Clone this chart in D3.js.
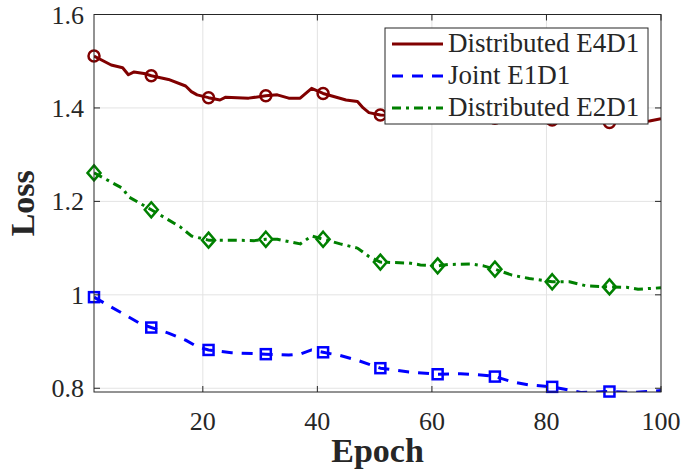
<!DOCTYPE html>
<html lang="en">
<head>
    <title>Loss vs Epoch</title>
    <script src="https://d3js.org/d3.v7.min.js"></script>
    <style>
        body { margin: 0; background: #fff; }
        text { font-family: "Liberation Serif", "Times New Roman", serif; fill: #262626; }
    </style>
</head>
<body>
  <svg width=682 height=470></svg>
    <script>
        // data
        const e4d1Epochs = [1, 4, 6, 7, 8, 10, 11, 14, 17, 18, 19, 21, 23, 24, 28, 31, 33, 35, 37, 39, 41, 45, 47, 48, 49, 51, 55, 61, 65, 71, 75, 81, 85, 91, 95, 98, 100];
        const e4d1Loss = [1.511, 1.492, 1.486, 1.471, 1.477, 1.473, 1.469, 1.461, 1.447, 1.435, 1.428, 1.422, 1.417, 1.423, 1.421, 1.426, 1.428, 1.421, 1.421, 1.442, 1.431, 1.417, 1.414, 1.400, 1.390, 1.385, 1.383, 1.381, 1.380, 1.378, 1.377, 1.374, 1.372, 1.369, 1.369, 1.372, 1.377];

        const e1d1Epochs = [1, 6, 9, 11, 14, 17, 19, 21, 25, 31, 35, 37, 39, 41, 44, 47, 51, 56, 61, 65, 69, 71, 74, 77, 81, 84, 86, 91, 95, 100];
        const e1d1Loss = [0.995, 0.960, 0.939, 0.930, 0.918, 0.903, 0.889, 0.882, 0.876, 0.873, 0.871, 0.873, 0.882, 0.877, 0.870, 0.860, 0.843, 0.835, 0.830, 0.831, 0.828, 0.825, 0.814, 0.807, 0.803, 0.796, 0.791, 0.793, 0.791, 0.795];

        const e2d1Epochs = [1, 6, 7, 11, 16, 18, 21, 25, 29, 31, 33, 37, 39, 41, 44, 47, 49, 51, 56, 58, 61, 63, 67, 69, 71, 74, 77, 81, 84, 87, 91, 94, 96, 100];
        const e2d1Loss = [1.261, 1.228, 1.210, 1.182, 1.146, 1.126, 1.117, 1.117, 1.116, 1.119, 1.119, 1.109, 1.126, 1.119, 1.109, 1.100, 1.082, 1.070, 1.068, 1.064, 1.062, 1.065, 1.066, 1.062, 1.055, 1.042, 1.035, 1.028, 1.028, 1.019, 1.017, 1.016, 1.012, 1.015];

        const markerEpochs = [1, 11, 21, 31, 41, 51, 61, 71, 81, 91];
        const xTicks = [20, 40, 60, 80, 100];
        const yTicks = [0.8, 1, 1.2, 1.4, 1.6];

        const series = [
            {name: "Distributed E4D1", epochs: e4d1Epochs, loss: e4d1Loss, color: "#800000", dash: null, marker: "circle"},
            {name: "Joint E1D1", epochs: e1d1Epochs, loss: e1d1Loss, color: "#0000ff", dash: "11,9", marker: "square"},
            {name: "Distributed E2D1", epochs: e2d1Epochs, loss: e2d1Loss, color: "#008000", dash: "9,5,3,5", marker: "diamond"}
        ];

        const svg = d3.select("svg");
        const pLeft = 94, pRight = 661, pTop = 14.5, pBottom = 392;

        const x = d3.scaleLinear().domain([1, 100]).range([pLeft, pRight]);
        const y = d3.scaleLinear().domain([0.792, 1.6]).range([pBottom, pTop]);

        // grid
        svg.append("g").selectAll("line").data(xTicks.slice(0, -1)).enter().append("line")
           .attr("x1", d => x(d)).attr("x2", d => x(d))
           .attr("y1", pTop).attr("y2", pBottom)
           .attr("stroke", "#e3e3e3").attr("stroke-width", 1);
        svg.append("g").selectAll("line").data(yTicks).enter().append("line")
           .attr("x1", pLeft).attr("x2", pRight)
           .attr("y1", d => y(d)).attr("y2", d => y(d))
           .attr("stroke", "#e3e3e3").attr("stroke-width", 1);

        // clip for lines
        svg.append("clipPath").attr("id", "plot")
           .append("rect").attr("x", pLeft).attr("y", pTop)
           .attr("width", pRight - pLeft).attr("height", pBottom - pTop);

        const line = d3.line().x(d => x(d[0])).y(d => y(d[1]));

        series.forEach(s => {
            const pts = s.epochs.map((e, i) => [e, s.loss[i]]);
            svg.append("path")
               .attr("clip-path", "url(#plot)")
               .attr("d", line(pts))
               .attr("fill", "none")
               .attr("stroke", s.color)
               .attr("stroke-width", 3)
               .attr("stroke-linejoin", "round")
               .attr("stroke-dasharray", s.dash);

            const mk = markerEpochs.map(e => [e, s.loss[s.epochs.indexOf(e)]]);
            const g = svg.append("g");
            if (s.marker === "circle") {
                g.selectAll("circle").data(mk).enter().append("circle")
                 .attr("cx", d => x(d[0])).attr("cy", d => y(d[1])).attr("r", 5.5)
                 .attr("fill", "none").attr("stroke", s.color).attr("stroke-width", 2.5);
            } else if (s.marker === "square") {
                g.selectAll("rect").data(mk).enter().append("rect")
                 .attr("x", d => x(d[0]) - 5).attr("y", d => y(d[1]) - 5)
                 .attr("width", 10).attr("height", 10)
                 .attr("fill", "none").attr("stroke", s.color).attr("stroke-width", 2.5);
            } else {
                g.selectAll("path").data(mk).enter().append("path")
                 .attr("d", d => {
                     const cx = x(d[0]), cy = y(d[1]);
                     return `M${cx},${cy - 7.5}L${cx + 6.5},${cy}L${cx},${cy + 7.5}L${cx - 6.5},${cy}Z`;
                 })
                 .attr("fill", "none").attr("stroke", s.color).attr("stroke-width", 2.5);
            }
        });

        // axes box
        const axisColor = "#262626";
        svg.append("rect").attr("x", pLeft).attr("y", pTop)
           .attr("width", pRight - pLeft).attr("height", pBottom - pTop)
           .attr("fill", "none").attr("stroke", axisColor).attr("stroke-width", 1);

        // inward ticks on all four sides
        const tickLen = 6;
        xTicks.forEach(t => {
            svg.append("line").attr("x1", x(t)).attr("x2", x(t)).attr("y1", pBottom).attr("y2", pBottom - tickLen).attr("stroke", axisColor);
            svg.append("line").attr("x1", x(t)).attr("x2", x(t)).attr("y1", pTop).attr("y2", pTop + tickLen).attr("stroke", axisColor);
        });
        yTicks.forEach(t => {
            svg.append("line").attr("x1", pLeft).attr("x2", pLeft + tickLen).attr("y1", y(t)).attr("y2", y(t)).attr("stroke", axisColor);
            svg.append("line").attr("x1", pRight).attr("x2", pRight - tickLen).attr("y1", y(t)).attr("y2", y(t)).attr("stroke", axisColor);
        });

        // tick labels
        svg.append("g").selectAll("text").data(xTicks).enter().append("text")
           .attr("x", d => x(d)).attr("y", 430)
           .attr("text-anchor", "middle").attr("font-size", 26)
           .text(d => d);
        svg.append("g").selectAll("text").data(yTicks).enter().append("text")
           .attr("x", 84).attr("y", d => y(d) + 9)
           .attr("text-anchor", "end").attr("font-size", 26)
           .text(d => d3.format("~g")(d));

        // axis titles
        svg.append("text").attr("x", (pLeft + pRight) / 2).attr("y", 462)
           .attr("text-anchor", "middle").attr("font-size", 34).attr("font-weight", "bold")
           .text("Epoch");
        svg.append("text").attr("transform", `translate(34,${(pTop + pBottom) / 2}) rotate(-90)`)
           .attr("text-anchor", "middle").attr("font-size", 34).attr("font-weight", "bold")
           .text("Loss");

        // legend
        const lg = svg.append("g");
        lg.append("rect").attr("x", 385).attr("y", 28).attr("width", 263).attr("height", 96)
          .attr("fill", "#fff").attr("stroke", axisColor).attr("stroke-width", 1);
        series.forEach((s, i) => {
            const ly = 44 + i * 32;
            lg.append("line").attr("x1", 392).attr("x2", 443).attr("y1", ly).attr("y2", ly)
              .attr("stroke", s.color).attr("stroke-width", 3).attr("stroke-dasharray", s.dash);
            lg.append("text").attr("x", 448).attr("y", ly + 8).attr("font-size", 27).text(s.name);
        });
    </script>
</body>
</html>
